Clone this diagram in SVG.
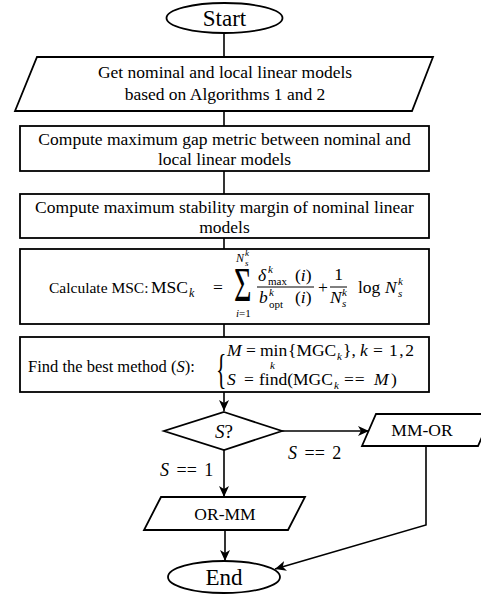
<svg xmlns="http://www.w3.org/2000/svg" width="481" height="595" viewBox="0 0 481 595" font-family="'Liberation Serif', 'DejaVu Serif', serif">
<style>
.s{fill:#fff;stroke:#000;stroke-width:1.8}
text{font-family:'Liberation Serif','DejaVu Serif',serif;fill:#000}
.i{font-style:italic}
.c{stroke:#000;stroke-width:1.6;fill:none}
.b{stroke:#000;stroke-width:1}
</style>
<defs>
<marker id="ah" markerUnits="userSpaceOnUse" markerWidth="12" markerHeight="10" refX="11" refY="5" orient="auto">
<path d="M0,0 L11,5 L0,10 L3,5 Z" fill="#000"/>
</marker>
</defs>
<g id="connectors">
<line class="c" x1="224" y1="33" x2="224" y2="57"/>
<line class="c" x1="224" y1="111" x2="224" y2="126"/>
<line class="c" x1="224" y1="171" x2="224" y2="194"/>
<line class="c" x1="224" y1="238" x2="224" y2="249"/>
<line class="c" x1="224" y1="324" x2="224" y2="337"/>
<line class="c" x1="224" y1="392" x2="224" y2="411" marker-end="url(#ah)"/>
<line class="c" x1="224" y1="450" x2="224" y2="497" marker-end="url(#ah)"/>
<line class="c" x1="282" y1="431" x2="369" y2="431" marker-end="url(#ah)"/>
<polyline class="c" points="426,446 426,525 275,569" marker-end="url(#ah)"/>
<line class="c" x1="225" y1="530" x2="225" y2="561" marker-end="url(#ah)"/>
<text x="288" y="459" font-size="18" word-spacing="3"><tspan class="i">S</tspan> == 2</text>
<text x="160" y="476" font-size="18" word-spacing="3"><tspan class="i">S</tspan> == 1</text>
</g>
<g id="start">
<ellipse class="s" cx="224.5" cy="18" rx="58" ry="15"/>
<text x="224.5" y="26" font-size="23" text-anchor="middle">Start</text>
</g>
<g id="get-models">
<polygon class="s" points="37,57 433,57 412,111 15,111"/>
<text x="225" y="78" font-size="17.5" text-anchor="middle">Get nominal and local linear models</text>
<text x="225" y="100" font-size="17.5" text-anchor="middle">based on Algorithms 1 and 2</text>
</g>
<g id="gap-metric">
<rect class="s" x="20" y="126" width="409" height="45"/>
<text x="224.5" y="145" font-size="17.5" text-anchor="middle">Compute maximum gap metric between nominal and</text>
<text x="224.5" y="165" font-size="17.5" text-anchor="middle">local linear models</text>
</g>
<g id="stability-margin">
<rect class="s" x="20" y="194" width="409" height="44"/>
<text x="224.5" y="213" font-size="17.5" text-anchor="middle">Compute maximum stability margin of nominal linear</text>
<text x="224.5" y="233" font-size="17.5" text-anchor="middle">models</text>
</g>
<g id="msc">
<rect class="s" x="20" y="249" width="409" height="75"/>
<text x="49" y="293" font-size="15.5">Calculate MSC:</text>
<text font-size="17.5"><tspan x="151" y="293">MSC</tspan><tspan class="i" x="189" y="297" font-size="12">k</tspan><tspan x="213" y="293">=</tspan></text>
<text font-size="30" transform="translate(234,301) scale(1,1.65)">Σ</text>
<text font-size="11"><tspan class="i" x="236" y="262" font-size="12">N</tspan><tspan class="i" x="245" y="256" font-size="9">k</tspan><tspan class="i" x="245" y="266" font-size="9">s</tspan></text>
<text x="236" y="317" font-size="11"><tspan class="i">i</tspan>=1</text>
<text font-size="17.5"><tspan class="i" x="258" y="281">δ</tspan><tspan class="i" x="268" y="273" font-size="11">k</tspan><tspan x="268" y="285" font-size="11">max</tspan><tspan x="295" y="281">(</tspan><tspan class="i">i</tspan><tspan>)</tspan></text>
<line class="b" x1="257" y1="287" x2="314" y2="287"/>
<text font-size="17.5"><tspan class="i" x="259" y="303">b</tspan><tspan class="i" x="269" y="296" font-size="11">k</tspan><tspan x="269" y="308" font-size="11">opt</tspan><tspan x="295" y="303">(</tspan><tspan class="i">i</tspan><tspan>)</tspan></text>
<text x="323" y="293" font-size="17.5" text-anchor="middle">+</text>
<text x="338.5" y="280" font-size="17.5" text-anchor="middle">1</text>
<line class="b" x1="330" y1="287" x2="347" y2="287"/>
<text font-size="17.5"><tspan class="i" x="330" y="303">N</tspan><tspan class="i" x="342" y="296" font-size="11">k</tspan><tspan class="i" x="342" y="307" font-size="11">s</tspan></text>
<text font-size="17.5"><tspan x="358" y="293">log</tspan><tspan class="i" x="385" y="293">N</tspan><tspan class="i" x="398" y="285" font-size="11">k</tspan><tspan class="i" x="398" y="297" font-size="11">s</tspan></text>
</g>
<g id="best-method">
<rect class="s" x="20" y="337" width="409" height="55"/>
<text x="28" y="372" font-size="16.5">Find the best method (<tspan class="i">S</tspan>):</text>
<text font-size="24" transform="translate(216,383) scale(0.9,1.75)">{</text>
<text font-size="17.5"><tspan class="i" x="227" y="356">M</tspan><tspan x="246">=</tspan><tspan x="260">min</tspan><tspan x="288">{MGC</tspan><tspan class="i" x="337" y="360" font-size="11">k</tspan><tspan x="343" y="356">},</tspan><tspan class="i" x="360">k</tspan><tspan x="373">=</tspan><tspan x="389" letter-spacing="1.5">1,2</tspan><tspan class="i" x="270" y="369" font-size="11">k</tspan></text>
<text font-size="17.5"><tspan class="i" x="227" y="385">S</tspan><tspan x="244">=</tspan><tspan x="259">find(MGC</tspan><tspan class="i" x="334" y="389" font-size="11">k</tspan><tspan x="344" y="385" letter-spacing="1">==</tspan><tspan class="i" x="374">M</tspan><tspan x="391">)</tspan></text>
</g>
<g id="decision">
<polygon class="s" points="224,412 282,431 224,450 164,431"/>
<text x="224" y="438" font-size="19" text-anchor="middle"><tspan class="i">S</tspan>?</text>
</g>
<g id="mm-or">
<polygon class="s" points="376,414 492,414 478,446 362,446"/>
<text x="422" y="436" font-size="17.5" text-anchor="middle">MM-OR</text>
</g>
<g id="or-mm">
<polygon class="s" points="161,497 305,497 288,530 144,530"/>
<text x="225" y="520" font-size="17.5" text-anchor="middle">OR-MM</text>
</g>
<g id="end">
<ellipse class="s" cx="224" cy="577" rx="56" ry="16"/>
<text x="224" y="585" font-size="23" text-anchor="middle">End</text>
</g>
</svg>
